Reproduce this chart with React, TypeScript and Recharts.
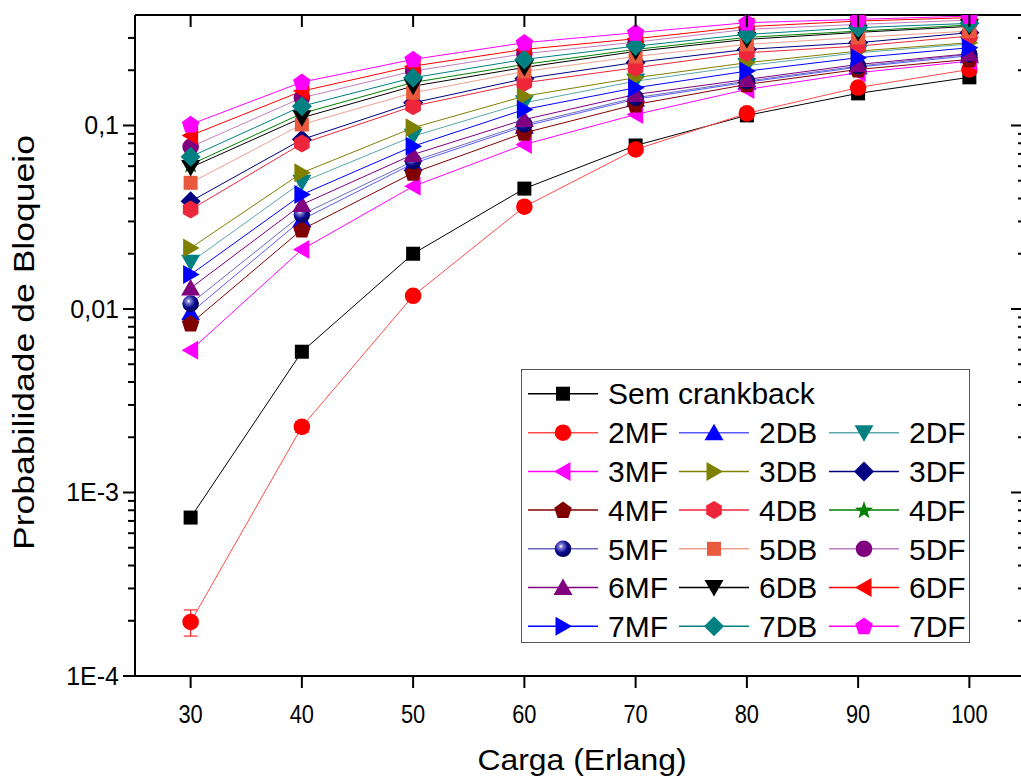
import React from 'react';
import { LineChart, Line, XAxis, YAxis, Legend, ErrorBar } from 'recharts';

const loads = [30, 40, 50, 60, 70, 80, 90, 100];

const semCrankback = [7.3e-4, 5.85e-3, 0.02, 0.0453, 0.0778, 0.1135, 0.1496, 0.183];
const mf2 = [1.97e-4, 2.28e-3, 0.0118, 0.0361, 0.074, 0.1164, 0.161, 0.202];
const err2MF = [3.2e-5, 1.5e-4, 0, 0, 0, 0, 0, 0];
const db2 = [0.00955, 0.0307, 0.0621, 0.0991, 0.139, 0.172, 0.208, 0.24];
const df2 = [0.018, 0.0491, 0.0874, 0.1329, 0.1745, 0.212, 0.2492, 0.278];
const mf3 = [0.00595, 0.0211, 0.0466, 0.0788, 0.1148, 0.1572, 0.1939, 0.2242];
const db3 = [0.0215, 0.0552, 0.0972, 0.1445, 0.1821, 0.2198, 0.2543, 0.2825];
const df3 = [0.0386, 0.0839, 0.1329, 0.1798, 0.2207, 0.2598, 0.2825, 0.3204];
const mf4 = [0.00832, 0.0271, 0.0552, 0.0912, 0.1301, 0.1674, 0.202, 0.2291];
const db4 = [0.0348, 0.0797, 0.1274, 0.171, 0.2064, 0.2492, 0.2707, 0.3069];
const df4 = [0.0613, 0.1163, 0.1716, 0.2151, 0.2598, 0.302, 0.3269, 0.3525];
const mf5 = [0.0107, 0.0327, 0.0639, 0.1013, 0.1416, 0.1745, 0.2106, 0.244];
const db5 = [0.0487, 0.1013, 0.1508, 0.197, 0.2378, 0.2766, 0.302, 0.3269];
const df5 = [0.0765, 0.1416, 0.1978, 0.2461, 0.2846, 0.334, 0.3556, 0.3754];
const mf6 = [0.013, 0.0371, 0.0695, 0.1078, 0.1476, 0.1782, 0.2151, 0.2461];
const db6 = [0.059, 0.1102, 0.1638, 0.2072, 0.2533, 0.2945, 0.3216, 0.3467];
const df6 = [0.0882, 0.1539, 0.2106, 0.2598, 0.297, 0.3455, 0.3707, 0.387];
const mf7 = [0.0154, 0.042, 0.0771, 0.1223, 0.1606, 0.1978, 0.2341, 0.2653];
const db7 = [0.0675, 0.1274, 0.1821, 0.2291, 0.2707, 0.3136, 0.3411, 0.3601];
const df7 = [0.1013, 0.1723, 0.2291, 0.2825, 0.3204, 0.3633, 0.3787, 0.3947];

const majorTicks = [1e-4, 1e-3, 1e-2, 1e-1];
const majorTickLabels = ['1E-4', '1E-3', '0,01', '0,1'];
const minorTicks = [
  2e-4, 3e-4, 4e-4, 5e-4, 6e-4, 7e-4, 8e-4, 9e-4,
  2e-3, 3e-3, 4e-3, 5e-3, 6e-3, 7e-3, 8e-3, 9e-3,
  2e-2, 3e-2, 4e-2, 5e-2, 6e-2, 7e-2, 8e-2, 9e-2,
  0.2, 0.3,
];

const FONT = "'Liberation Sans', Arial, sans-serif";

type Series = { key: string; name: string; values: number[]; color: string; line: string; shape: string };

const sem: Series = { key: 'sem', name: 'Sem crankback', values: semCrankback, color: '#000000', line: '#000000', shape: 'square' };
const grid: Series[] = [
  { key: 'mf2', name: '2MF', values: mf2, color: '#FF0000', line: '#FF4a4a', shape: 'circle' },
  { key: 'db2', name: '2DB', values: db2, color: '#0000FF', line: '#5a5aff', shape: 'up' },
  { key: 'df2', name: '2DF', values: df2, color: '#008080', line: '#5aa8a8', shape: 'down' },
  { key: 'mf3', name: '3MF', values: mf3, color: '#FF00FF', line: '#FF00FF', shape: 'left' },
  { key: 'db3', name: '3DB', values: db3, color: '#808000', line: '#808000', shape: 'right' },
  { key: 'df3', name: '3DF', values: df3, color: '#000080', line: '#000080', shape: 'diamond' },
  { key: 'mf4', name: '4MF', values: mf4, color: '#800000', line: '#800000', shape: 'pentagon' },
  { key: 'db4', name: '4DB', values: db4, color: '#EE263C', line: '#EE263C', shape: 'hexagon' },
  { key: 'df4', name: '4DF', values: df4, color: '#008000', line: '#008000', shape: 'star' },
  { key: 'mf5', name: '5MF', values: mf5, color: '#000080', line: '#6a6ac0', shape: 'sphere' },
  { key: 'db5', name: '5DB', values: db5, color: '#E8593E', line: '#F0A090', shape: 'square' },
  { key: 'df5', name: '5DF', values: df5, color: '#800080', line: '#C080C0', shape: 'circle' },
  { key: 'mf6', name: '6MF', values: mf6, color: '#800080', line: '#800080', shape: 'up' },
  { key: 'db6', name: '6DB', values: db6, color: '#000000', line: '#000000', shape: 'down' },
  { key: 'df6', name: '6DF', values: df6, color: '#FF0000', line: '#FF0000', shape: 'left' },
  { key: 'mf7', name: '7MF', values: mf7, color: '#0000FF', line: '#0000FF', shape: 'right' },
  { key: 'db7', name: '7DB', values: db7, color: '#008080', line: '#008080', shape: 'diamond' },
  { key: 'df7', name: '7DF', values: df7, color: '#FF00FF', line: '#FF00FF', shape: 'pentagon' },
];
const allSeries = [sem, ...grid];

const data = loads.map((x, i) => {
  const row: any = { x, err2MF: err2MF[i] };
  allSeries.forEach((s) => {
    row[s.key] = s.values[i];
  });
  return row;
});

const poly = (cx: number, cy: number, n: number, r: number, rot: number) => {
  const pts: string[] = [];
  for (let i = 0; i < n; i++) {
    const a = rot + (i * 2 * Math.PI) / n;
    pts.push(`${cx + r * Math.cos(a)},${cy + r * Math.sin(a)}`);
  }
  return pts.join(' ');
};

const starPts = (cx: number, cy: number, R: number, r: number) => {
  const pts: string[] = [];
  for (let i = 0; i < 10; i++) {
    const a = -Math.PI / 2 + (i * Math.PI) / 5;
    const rr = i % 2 === 0 ? R : r;
    pts.push(`${cx + rr * Math.cos(a)},${cy + rr * Math.sin(a)}`);
  }
  return pts.join(' ');
};

let gradCounter = 0;

const Marker = ({ cx, cy, shape, color }: { cx: number; cy: number; shape: string; color: string }) => {
  if (cx == null || cy == null || isNaN(cx) || isNaN(cy)) return null;
  switch (shape) {
    case 'square':
      return <rect x={cx - 7} y={cy - 7} width={14} height={14} fill={color} />;
    case 'circle':
      return <circle cx={cx} cy={cy} r={8.3} fill={color} />;
    case 'up':
      return <polygon points={`${cx},${cy - 9} ${cx + 9.5},${cy + 7.5} ${cx - 9.5},${cy + 7.5}`} fill={color} />;
    case 'down':
      return <polygon points={`${cx},${cy + 9} ${cx + 9.5},${cy - 7.5} ${cx - 9.5},${cy - 7.5}`} fill={color} />;
    case 'left':
      return <polygon points={`${cx - 9},${cy} ${cx + 7.5},${cy - 9.5} ${cx + 7.5},${cy + 9.5}`} fill={color} />;
    case 'right':
      return <polygon points={`${cx + 9},${cy} ${cx - 7.5},${cy - 9.5} ${cx - 7.5},${cy + 9.5}`} fill={color} />;
    case 'diamond':
      return <polygon points={`${cx},${cy - 10} ${cx + 10},${cy} ${cx},${cy + 10} ${cx - 10},${cy}`} fill={color} />;
    case 'pentagon':
      return <polygon points={poly(cx, cy + 0.5, 5, 9.2, -Math.PI / 2)} fill={color} />;
    case 'hexagon':
      return <polygon points={poly(cx, cy, 6, 9, -Math.PI / 2)} fill={color} />;
    case 'star':
      return <polygon points={starPts(cx, cy + 0.5, 9.5, 3.8)} fill={color} />;
    case 'sphere': {
      const id = `sph${gradCounter++}`;
      return (
        <g>
          <defs>
            <radialGradient id={id} cx="38%" cy="35%" r="70%">
              <stop offset="0%" stopColor="#ffffff" />
              <stop offset="18%" stopColor="#8080d0" />
              <stop offset="55%" stopColor="#0a0a90" />
              <stop offset="100%" stopColor="#000050" />
            </radialGradient>
          </defs>
          <circle cx={cx} cy={cy} r={8.3} fill={`url(#${id})`} />
        </g>
      );
    }
    default:
      return null;
  }
};

const isMajor = (v: number) => {
  const l = Math.log10(v);
  return Math.abs(l - Math.round(l)) < 1e-6;
};
const majorLabel = (v: number) => {
  const idx = majorTicks.findIndex((m) => Math.abs(Math.log10(m) - Math.log10(v)) < 1e-6);
  return idx >= 0 ? majorTickLabels[idx] : '';
};

const LeftTick = (p: any) => {
  const { x, y, payload } = p;
  const v = payload.value;
  const major = isMajor(v);
  return (
    <g>
      <line x1={x} x2={x - (major ? 12 : 7)} y1={y} y2={y} stroke="#000" strokeWidth={2} />
      {major && (
        <text x={x - 16} y={y} dy="0.36em" textAnchor="end" fontSize={25} fontFamily={FONT} fill="#000">
          {majorLabel(v)}
        </text>
      )}
    </g>
  );
};

const RightTick = (p: any) => {
  const { x, y, payload } = p;
  const major = isMajor(payload.value);
  return <line x1={x} x2={x - (major ? 14 : 7)} y1={y} y2={y} stroke="#000" strokeWidth={2} />;
};

const BottomTick = (p: any) => {
  const { x, y, payload } = p;
  return (
    <g>
      <line x1={x} x2={x} y1={y} y2={y + 12} stroke="#000" strokeWidth={2} />
      <g transform={`translate(${x},${y + 47}) scale(0.95,1.12)`}>
        <text x={0} y={0} textAnchor="middle" fontSize={23} fontFamily={FONT} fill="#000">
          {payload.value}
        </text>
      </g>
    </g>
  );
};

const TopTick = (p: any) => {
  const { x, y } = p;
  return <line x1={x} x2={x} y1={y} y2={y + 12} stroke="#000" strokeWidth={2} />;
};

const XTitle = (p: any) => {
  const vb = p.viewBox || {};
  const cx = vb.x + vb.width / 2 + 2;
  return (
    <text x={cx} y={vb.y + 94} textAnchor="middle" fontSize={30} fontFamily={FONT} fill="#000" textLength={209} lengthAdjust="spacingAndGlyphs">
      Carga (Erlang)
    </text>
  );
};

const YTitle = (p: any) => {
  const vb = p.viewBox || {};
  const cx = 34;
  const cy = vb.y + vb.height / 2 - 3;
  return (
    <text
      x={cx}
      y={cy}
      transform={`rotate(-90 ${cx} ${cy})`}
      textAnchor="middle"
      fontSize={30}
      fontFamily={FONT}
      fill="#000"
      textLength={415}
      lengthAdjust="spacingAndGlyphs"
    >
      Probabilidade de Bloqueio
    </text>
  );
};

const LegendBox = () => {
  const cols = [6, 157, 307];
  const rowY = (r: number) => 62.7 + r * 38.7;
  const item = (s: Series, x0: number, y: number) => (
    <g key={s.key}>
      <line x1={x0} x2={x0 + 70} y1={y} y2={y} stroke={s.line} strokeWidth={1.5} />
      <Marker cx={x0 + 35} cy={y} shape={s.shape} color={s.color} />
      <text x={x0 + 80} y={y + 10.7} fontSize={30} fontFamily={FONT} fill="#000">
        {s.name}
      </text>
    </g>
  );
  return (
    <div style={{ width: 449, height: 274, border: '1.5px solid #555', boxSizing: 'border-box', background: '#fff' }}>
      <svg width={446} height={271} style={{ display: 'block', overflow: 'visible' }}>
        {item(sem, 6, 23.7)}
        {grid.map((s, i) => item(s, cols[i % 3], rowY(Math.floor(i / 3))))}
      </svg>
    </div>
  );
};

const renderDot = (s: Series) => (props: any) => (
  <Marker key={`${s.key}-${props.index}`} cx={props.cx} cy={props.cy} shape={s.shape} color={s.color} />
);

export default function App() {
  return (
    <div style={{ position: 'absolute', left: 0, top: 0, width: 1021, height: 779, overflow: 'hidden', background: '#fff' }}>
      <LineChart width={1040} height={779} data={data} margin={{ top: 0, right: 0, bottom: 0, left: 0 }}>
        <XAxis
          xAxisId="bottom"
          dataKey="x"
          type="number"
          domain={[25, 105]}
          allowDataOverflow
          ticks={loads}
          interval={0}
          height={103}
          tickSize={0}
          tickMargin={0}
          tickLine={false}
          axisLine={{ stroke: '#000', strokeWidth: 2 }}
          tick={(p: any) => <BottomTick {...p} />}
          label={{ content: (p: any) => <XTitle {...p} /> }}
        />
        <XAxis
          xAxisId="top"
          orientation="top"
          dataKey="x"
          type="number"
          domain={[25, 105]}
          allowDataOverflow
          ticks={loads}
          interval={0}
          height={15}
          tickSize={0}
          tickMargin={0}
          tickLine={false}
          axisLine={{ stroke: '#000', strokeWidth: 2 }}
          tick={(p: any) => <TopTick {...p} />}
        />
        <YAxis
          yAxisId="left"
          type="number"
          scale="log"
          domain={[1e-4, 0.4]}
          allowDataOverflow
          ticks={[...majorTicks, ...minorTicks]}
          interval={0}
          width={135}
          tickSize={0}
          tickMargin={0}
          tickLine={false}
          axisLine={{ stroke: '#000', strokeWidth: 2 }}
          tick={(p: any) => <LeftTick {...p} />}
          label={{ content: (p: any) => <YTitle {...p} /> }}
        />
        <YAxis
          yAxisId="right"
          orientation="right"
          type="number"
          scale="log"
          domain={[1e-4, 0.4]}
          allowDataOverflow
          ticks={[...majorTicks, ...minorTicks]}
          interval={0}
          width={15}
          tickSize={0}
          tickMargin={0}
          tickLine={false}
          axisLine={{ stroke: '#000', strokeWidth: 2 }}
          tick={(p: any) => <RightTick {...p} />}
        />
        {allSeries.map((s) => (
          <Line
            key={s.key}
            xAxisId="bottom"
            yAxisId="left"
            dataKey={s.key}
            name={s.name}
            stroke={s.line}
            strokeWidth={1}
            dot={renderDot(s)}
            activeDot={false}
            isAnimationActive={false}
          >
            {s.key === 'mf2' && <ErrorBar dataKey="err2MF" width={7} stroke="#FF0000" strokeWidth={1} direction="y" />}
          </Line>
        ))}
        <Legend
          layout="vertical"
          align="center"
          verticalAlign="middle"
          wrapperStyle={{ left: 521, top: 369, width: 449, height: 274 }}
          content={() => <LegendBox />}
        />
      </LineChart>
    </div>
  );
}
